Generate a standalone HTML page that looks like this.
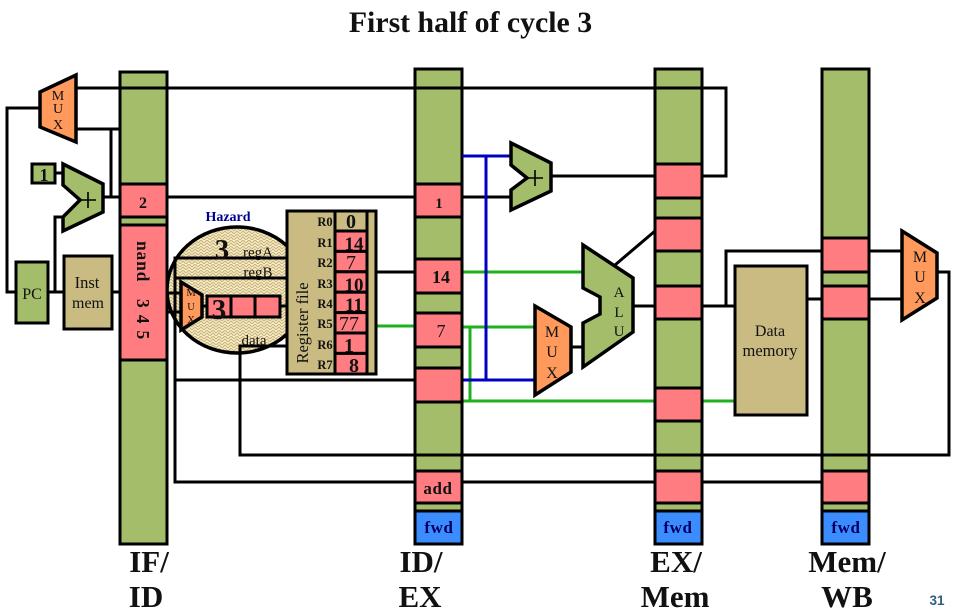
<!DOCTYPE html>
<html><head><meta charset="utf-8"><title>First half of cycle 3</title>
<style>
html,body{margin:0;padding:0;background:#fff}
svg{display:block}
text{font-family:"Liberation Serif",serif;fill:#111}
.b{font-weight:bold}
.m{text-anchor:middle}
.w{fill:none;stroke:#000;stroke-width:3}
.g{fill:none;stroke:#1fb01f;stroke-width:3}
.u{fill:none;stroke:#0000c0;stroke-width:3}
.bar{fill:#a3bd6b;stroke:#000;stroke-width:3}
.p{fill:#ff7c80;stroke:#000;stroke-width:3}
.f{fill:#3a8cff;stroke:#000;stroke-width:3}
.o{fill:#ff9a5c;stroke:#000;stroke-width:3.5}
.t{fill:#c9bb82;stroke:#000;stroke-width:3}
.fw{fill:#000060;font-weight:bold;font-size:17px;text-anchor:middle;letter-spacing:.6px}
.big{font-size:31px;text-anchor:middle;font-weight:bold}
</style></head>
<body>
<svg width="958" height="612" viewBox="0 0 958 612" xmlns="http://www.w3.org/2000/svg">
<defs>
<pattern id="h" width="6" height="6" patternUnits="userSpaceOnUse">
<rect width="6" height="6" fill="#fbeec6"/>
<path d="M0 3L3 0L6 3M0 6L3 3L6 6" fill="none" stroke="#c4b27e" stroke-width="1"/>
</pattern>
</defs>
<rect width="958" height="612" fill="#fff"/>
<text x="470.500" y="32" class="b m" font-size="29.800">First half of cycle 3</text>

<!-- bars -->
<rect class="bar" x="120" y="72" width="47" height="472"/>
<rect class="bar" x="415" y="69" width="47" height="475"/>
<rect class="bar" x="655" y="69" width="47" height="475"/>
<rect class="bar" x="822" y="69" width="47" height="475"/>

<!-- hazard bubble -->
<ellipse cx="237" cy="290" rx="70" ry="63" fill="url(#h)" stroke="#000" stroke-width="3.5"/>

<!-- wires over bars -->
<path class="w" d="M76 88H726V176H702"/>
<path class="w" d="M40 108H7V292H15"/>
<path class="w" d="M76 129H120M111 129V197M103 197H120M167 197H415"/>
<path class="w" d="M48 292H63M112 292H120M55 292V217H63M55 173H63"/>
<path class="w" d="M167 293H181M167 312H181"/>
<path class="w" d="M175 380V258H287M175 278H287"/>
<path class="w" d="M175 380V482H415M462 482H655M702 482H822"/>
<path class="w" d="M175 380H415"/>
<path class="w" d="M287 346H240V455H949V272H937"/>
<path class="w" d="M202 306H207M280 306H287"/>
<path class="w" d="M376 272H415"/>
<path class="w" d="M462 197H511M551 176H655"/>
<path class="w" d="M571 347H583M633 306H655M615 265L655 231"/>
<path class="w" d="M702 306H734M726 306V251H822"/>
<path class="w" d="M807 299H822"/>
<path class="w" d="M869 251H902M869 299H902"/>
<path class="g" d="M376 326H415M462 327H535M470 327V401M462 401H655M702 401H734"/>
<path class="g" d="M462 272H583"/>
<path class="u" d="M462 156H511M486 156V380M462 380H535"/>

<!-- pink cells IF/ID -->
<rect class="p" x="120" y="184" width="47" height="33"/>
<rect class="p" x="120" y="225" width="47" height="135"/>
<!-- ID/EX -->
<rect class="p" x="415" y="184" width="47" height="33"/>
<rect class="p" x="415" y="259" width="47" height="34"/>
<rect class="p" x="415" y="313" width="47" height="34"/>
<rect class="p" x="415" y="368" width="47" height="34"/>
<rect class="p" x="415" y="471" width="47" height="32"/>
<rect class="f" x="415" y="511" width="47" height="33"/>
<!-- EX/Mem -->
<rect class="p" x="655" y="164" width="47" height="34"/>
<rect class="p" x="655" y="218" width="47" height="33"/>
<rect class="p" x="655" y="286" width="47" height="33"/>
<rect class="p" x="655" y="388" width="47" height="33"/>
<rect class="p" x="655" y="471" width="47" height="32"/>
<rect class="f" x="655" y="511" width="47" height="33"/>
<!-- Mem/WB -->
<rect class="p" x="822" y="238" width="47" height="34"/>
<rect class="p" x="822" y="286" width="47" height="33"/>
<rect class="p" x="822" y="471" width="47" height="32"/>
<rect class="f" x="822" y="511" width="47" height="33"/>

<!-- left components -->
<polygon class="o" points="40,92 76,75 76,142 40,127"/>
<text x="58" y="100" class="m" font-size="14">M</text>
<text x="58" y="113" class="m" font-size="14">U</text>
<text x="58" y="129" class="m" font-size="14">X</text>

<rect class="bar" x="32" y="164" width="23" height="19"/>
<text x="44" y="181" class="b m" font-size="18">1</text>
<polygon class="bar" style="stroke-width:3.5" points="63,164 103,184 103,212 63,231 63,217 80,200 63,185"/>
<path d="M80 200H96M88 192V208" stroke="#000" stroke-width="1.6" fill="none"/>

<rect class="bar" x="16" y="262" width="32" height="61"/>
<text x="32" y="299" class="m" font-size="16">PC</text>
<rect class="t" x="64" y="256" width="48" height="73"/>
<text x="87" y="288" class="m" font-size="16.500">Inst</text>
<text x="88" y="308" class="m" font-size="16">mem</text>

<text x="143" y="208" class="b m" font-size="16">2</text>
<text transform="translate(137,241) rotate(90)" class="b" font-size="17.500" letter-spacing=".8">nand</text>
<text transform="translate(137,299) rotate(90)" class="b" font-size="17.500" letter-spacing="7">345</text>

<!-- hazard content -->
<text x="228" y="221" class="b m" font-size="14" style="fill:#000090">Hazard</text>
<text x="222" y="259" class="b m" font-size="29">3</text>
<text x="258" y="257" class="m" font-size="15">regA</text>
<text x="258" y="277" class="m" font-size="15">regB</text>
<text x="254" y="345" class="m" font-size="15">data</text>
<polygon class="o" points="181,282 202,295 202,317 181,330"/>
<text x="191" y="296" class="m" font-size="10.500">M</text>
<text x="191" y="310" class="m" font-size="10.500">U</text>
<text x="191" y="323" class="m" font-size="10.500">X</text>
<rect class="p" x="207" y="296" width="73" height="21"/>
<path class="w" d="M231 296V317M255 296V317"/>
<text x="219" y="319" class="b m" font-size="29">3</text>

<!-- register file -->
<rect class="t" x="287" y="211" width="89" height="163"/>
<rect x="335" y="211" width="32" height="163" fill="#c9bb82" stroke="#000" stroke-width="3"/>
<g>
<rect class="p" x="335" y="231" width="32" height="20.400"/>
<rect class="p" x="335" y="251.400" width="32" height="20.400"/>
<rect class="p" x="335" y="271.800" width="32" height="20.400"/>
<rect class="p" x="335" y="292.200" width="32" height="20.400"/>
<rect class="p" x="335" y="312.600" width="32" height="20.400"/>
<rect class="p" x="335" y="333" width="32" height="20.400"/>
<rect class="p" x="335" y="353.400" width="32" height="20.600"/>
</g>
<g class="b" font-size="12.500" text-anchor="middle">
<text x="325" y="226">R0</text><text x="325" y="247">R1</text><text x="325" y="267">R2</text><text x="325" y="288">R3</text>
<text x="325" y="308">R4</text><text x="325" y="328">R5</text><text x="325" y="349">R6</text><text x="325" y="369">R7</text>
</g>
<g font-size="20" text-anchor="middle">
<text x="351" y="228" class="b">0</text>
<text x="354" y="250" class="b" font-size="19">14</text>
<text x="351" y="269">7</text>
<text x="354" y="291" class="b" font-size="19">10</text>
<text x="354" y="311" class="b" font-size="19">11</text>
<text x="349" y="330">77</text>
<text x="349" y="352" class="b">1</text>
<text x="354" y="372" class="b">8</text>
</g>
<text transform="translate(308,323) rotate(-90)" class="m" font-size="16.500">Register file</text>

<!-- ID/EX labels -->
<text x="439" y="208" class="b m" font-size="15">1</text>
<text x="441" y="283" class="b m" font-size="18">14</text>
<text x="441" y="337" class="m" font-size="18">7</text>
<text x="438" y="494" class="b m" font-size="17" letter-spacing=".6">add</text>
<text x="439" y="533" class="fw">fwd</text>
<text x="678" y="533" class="fw">fwd</text>
<text x="846" y="533" class="fw">fwd</text>

<!-- adder 2 -->
<polygon class="bar" style="stroke-width:3.5" points="511,143 551,163 551,191 511,210 511,190 527,178 511,165"/>
<path d="M527 178H543M535 170V186" stroke="#000" stroke-width="1.6" fill="none"/>

<!-- mux 2 -->
<polygon class="o" points="535,306 571,327 571,372 535,395"/>
<text x="552" y="337" class="m" font-size="16">M</text>
<text x="552" y="357" class="m" font-size="16">U</text>
<text x="552" y="378" class="m" font-size="16">X</text>

<!-- ALU -->
<polygon class="bar" style="stroke-width:3.5" points="583,245 633,278 633,332 583,367 583,323 600,314 600,297 583,288"/>
<text x="619" y="297" class="m" font-size="15">A</text>
<text x="619" y="317" class="m" font-size="15">L</text>
<text x="619" y="336" class="m" font-size="15">U</text>

<!-- data memory -->
<rect class="t" x="735" y="266" width="72" height="149"/>
<text x="770" y="336" class="m" font-size="16">Data</text>
<text x="770" y="356" class="m" font-size="16.500">memory</text>

<!-- mux 3 -->
<polygon class="o" points="902,231 937,253 937,298 902,320"/>
<text x="920" y="262" class="m" font-size="16">M</text>
<text x="920" y="282" class="m" font-size="16">U</text>
<text x="920" y="303" class="m" font-size="16">X</text>

<!-- stage labels -->
<text x="149" y="572" class="big">IF/</text>
<text x="146" y="607" class="big">ID</text>
<text x="421" y="572" class="big">ID/</text>
<text x="420" y="607" class="big">EX</text>
<text x="676" y="572" class="big">EX/</text>
<text x="675" y="607" class="big">Mem</text>
<text x="847" y="572" class="big">Mem/</text>
<text x="847" y="607" class="big">WB</text>
<text x="937" y="605" style="font-family:'Liberation Sans',sans-serif;fill:#2f5f80;font-weight:bold" class="m" font-size="13.500">31</text>
</svg>
</body></html>
